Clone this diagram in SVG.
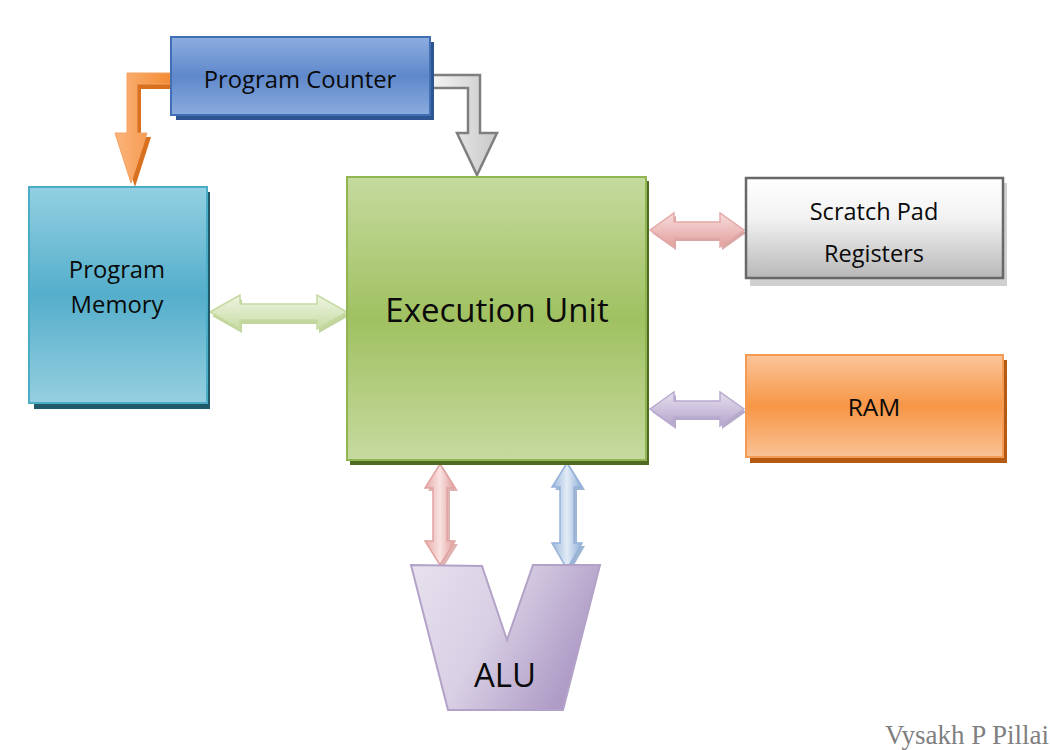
<svg xmlns="http://www.w3.org/2000/svg" width="1050" height="750" viewBox="0 0 1050 750">
<defs>
<linearGradient id="gBlue" x1="0" y1="0" x2="0" y2="1">
<stop offset="0" stop-color="#8DADE0"/><stop offset="0.5" stop-color="#5F88CB"/><stop offset="1" stop-color="#8AABDE"/>
</linearGradient>
<linearGradient id="gTeal" x1="0" y1="0" x2="0" y2="1">
<stop offset="0" stop-color="#93D0E2"/><stop offset="0.5" stop-color="#54AECB"/><stop offset="1" stop-color="#95CFE0"/>
</linearGradient>
<linearGradient id="gGreen" x1="0" y1="0" x2="0" y2="1">
<stop offset="0" stop-color="#C5DA9E"/><stop offset="0.5" stop-color="#A0C161"/><stop offset="1" stop-color="#C6DA9F"/>
</linearGradient>
<linearGradient id="gGray" x1="0" y1="0" x2="0" y2="1">
<stop offset="0" stop-color="#FFFFFF"/><stop offset="0.4" stop-color="#F2F2F2"/><stop offset="1" stop-color="#B8B8B8"/>
</linearGradient>
<linearGradient id="gOrange" x1="0" y1="0" x2="0" y2="1">
<stop offset="0" stop-color="#FBC59A"/><stop offset="0.5" stop-color="#F79646"/><stop offset="1" stop-color="#FAC295"/>
</linearGradient>
<linearGradient id="gAlu" x1="0" y1="0" x2="1" y2="0.4">
<stop offset="0" stop-color="#E7E1EE"/><stop offset="0.5" stop-color="#D8CFE4"/><stop offset="1" stop-color="#AE9BC6"/>
</linearGradient>
<linearGradient id="aGreen" x1="0" y1="0" x2="0" y2="1">
<stop offset="0" stop-color="#EEF4E2"/><stop offset="1" stop-color="#CADDA6"/>
</linearGradient>
<linearGradient id="aPink" x1="0" y1="0" x2="0" y2="1">
<stop offset="0" stop-color="#F6DCDB"/><stop offset="1" stop-color="#E2A09E"/>
</linearGradient>
<linearGradient id="aPurple" x1="0" y1="0" x2="0" y2="1">
<stop offset="0" stop-color="#E6E0EE"/><stop offset="1" stop-color="#B4A5CB"/>
</linearGradient>
<linearGradient id="aPinkV" x1="0" y1="0" x2="1" y2="0">
<stop offset="0" stop-color="#E8AAA8"/><stop offset="0.5" stop-color="#F8E2E1"/><stop offset="1" stop-color="#E09D9B"/>
</linearGradient>
<linearGradient id="aBlueV" x1="0" y1="0" x2="1" y2="0">
<stop offset="0" stop-color="#9DB8DC"/><stop offset="0.5" stop-color="#E2EBF6"/><stop offset="1" stop-color="#8EAED8"/>
</linearGradient>
<linearGradient id="aGrayA" x1="0" y1="0" x2="1" y2="0">
<stop offset="0" stop-color="#F4F4F4"/><stop offset="1" stop-color="#C8C8C8"/>
</linearGradient>
<linearGradient id="aOrangeA" x1="0" y1="0" x2="1" y2="0">
<stop offset="0" stop-color="#FBB47C"/><stop offset="1" stop-color="#F38A33"/>
</linearGradient>
</defs>
<style>
.lbl{font-family:"Open Sans","Liberation Sans",sans-serif;fill:#0A0A0A;text-anchor:middle;}
.wm{font-family:"Liberation Serif",serif;fill:#7F7F7F;font-size:27px;}
</style>
<rect width="1050" height="750" fill="#FFFFFF"/>

<g id="connectors">
<!-- orange elbow PC -> Program Memory -->
<path d="M172,77 L131,77 L131,137 L119,137 L135,187 L151,137 L141,137 L141,89 L172,89 Z" fill="#D9701E"/>
<path d="M172,73 L127,73 L127,133 L115,133 L131,183 L147,133 L137,133 L137,84 L172,84 Z" fill="url(#aOrangeA)" stroke="#F5A263" stroke-width="1"/>
<!-- gray elbow PC -> EU -->
<path d="M432,75 L480,75 L480,133 L497,133 L477,175 L457,133 L468,133 L468,88 L432,88 Z" fill="url(#aGrayA)" stroke="#7F7F7F" stroke-width="2.5" stroke-linejoin="miter"/>
<!-- green PM <-> EU -->
<path d="M212,316 L242,299 L242,308 L319,308 L319,299 L349,316 L319,333 L319,324 L242,324 L242,333 Z" fill="#B3CB84" opacity="0.8"/>
<path d="M210,312 L240,295 L240,304 L317,304 L317,295 L347,312 L317,329 L317,320 L240,320 L240,329 Z" fill="url(#aGreen)" stroke="#C5DAA0" stroke-width="1.5"/>
<!-- pink EU <-> Scratch -->
<path d="M652,233 L676,216 L676,225 L722,225 L722,216 L746,233 L722,250 L722,241 L676,241 L676,250 Z" fill="#C9807E" opacity="0.7"/>
<path d="M650,230 L674,213 L674,222 L720,222 L720,213 L744,230 L720,247 L720,238 L674,238 L674,247 Z" fill="url(#aPink)" stroke="#E4A9A7" stroke-width="1.5"/>
<!-- purple EU <-> RAM -->
<path d="M652,412 L676,395 L676,404 L722,404 L722,395 L746,412 L722,429 L722,420 L676,420 L676,429 Z" fill="#9686B2" opacity="0.7"/>
<path d="M650,409 L674,392 L674,401 L720,401 L720,392 L744,409 L720,426 L720,417 L674,417 L674,426 Z" fill="url(#aPurple)" stroke="#B9ABCF" stroke-width="1.5"/>
<!-- pink vertical EU <-> ALU -->
<path d="M443,467 L458,491 L450,491 L450,544 L458,544 L443,568 L428,544 L436,544 L436,491 L428,491 Z" fill="#C9807E" opacity="0.6"/>
<path d="M440,464 L455,488 L447,488 L447,541 L455,541 L440,565 L425,541 L433,541 L433,488 L425,488 Z" fill="url(#aPinkV)" stroke="#E2A3A1" stroke-width="1.5"/>
<!-- blue vertical EU <-> ALU -->
<path d="M570,466 L585,490 L577,490 L577,546 L585,546 L570,572 L555,546 L563,546 L563,490 L555,490 Z" fill="#5E84B6" opacity="0.6"/>
<path d="M567,463 L582,487 L574,487 L574,543 L582,543 L567,569 L552,543 L560,543 L560,487 L552,487 Z" fill="url(#aBlueV)" stroke="#95B3DA" stroke-width="1.5"/>
</g>

<g id="program-counter">
<rect x="176" y="42" width="258" height="78" fill="#2E5591"/>
<rect x="171" y="37" width="259" height="78" fill="url(#gBlue)" stroke="#416FB3" stroke-width="2"/>
<text class="lbl" x="300" y="88" font-size="23.8">Program Counter</text>
</g>

<g id="program-memory">
<rect x="34" y="192" width="176" height="217" fill="#205A6A"/>
<rect x="29" y="187" width="178" height="216" fill="url(#gTeal)" stroke="#4BACC6" stroke-width="2"/>
<text class="lbl" x="117" y="278" font-size="23.8">Program</text>
<text class="lbl" x="117" y="313" font-size="23.8">Memory</text>
</g>

<g id="execution-unit">
<rect x="350" y="181" width="299" height="284" fill="#4F6B22"/>
<rect x="347" y="177" width="299" height="283" fill="url(#gGreen)" stroke="#92B553" stroke-width="2"/>
<text class="lbl" x="497" y="322" font-size="33">Execution Unit</text>
</g>

<g id="scratch-pad">
<rect x="750" y="183" width="257" height="103" fill="#D0D0D0"/>
<rect x="746" y="178" width="257" height="100" fill="url(#gGray)" stroke="#686868" stroke-width="2.5"/>
<text class="lbl" x="874" y="220" font-size="23.5">Scratch Pad</text>
<text class="lbl" x="874" y="262" font-size="23.5">Registers</text>
</g>

<g id="ram">
<rect x="750" y="360" width="257" height="103" fill="#B55A12"/>
<rect x="746" y="355" width="257" height="102" fill="url(#gOrange)" stroke="#F59A52" stroke-width="2"/>
<text class="lbl" x="874" y="416" font-size="24.5">RAM</text>
</g>

<g id="alu">
<path d="M411,565 L482,566 L507,640 L533,565 L600,565 L563,710 L448,710 Z" fill="url(#gAlu)" stroke="#B3A2C7" stroke-width="2" stroke-linejoin="miter"/>
<text class="lbl" x="505" y="687" font-size="33">ALU</text>
</g>

<text class="wm" x="885" y="744">Vysakh P Pillai</text>
</svg>
